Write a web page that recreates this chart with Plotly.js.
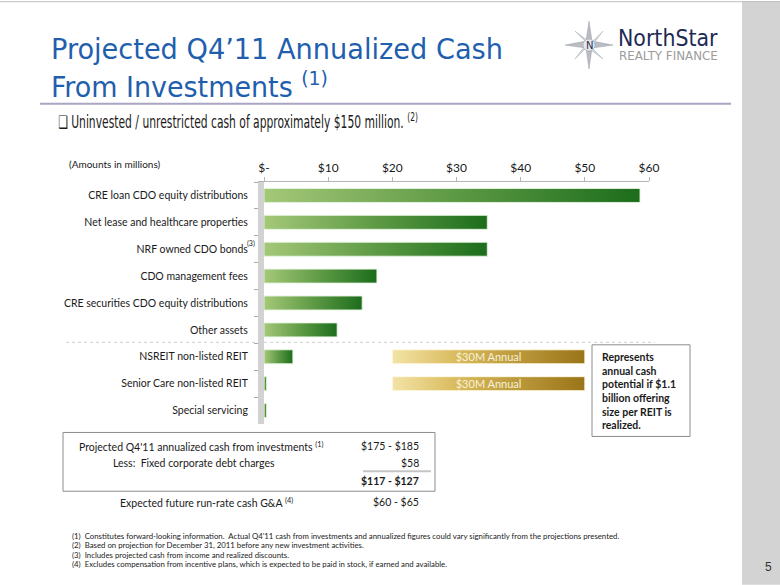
<!DOCTYPE html>
<html>
<head>
<meta charset="utf-8">
<script src="https://cdn.plot.ly/plotly-3.0.1.min.js"></script>
<style>
html,body{margin:0;padding:0;background:#fff;}
#chart{width:780px;height:585px;}
</style>
</head>
<body>
<div id="chart"></div>
<script>
// ---- data ----
const categories = [
  "CRE loan CDO equity distributions",
  "Net lease and healthcare properties",
  "NRF owned CDO bonds",
  "CDO management fees",
  "CRE securities CDO equity distributions",
  "Other assets",
  "NSREIT non-listed REIT",
  "Senior Care non-listed REIT",
  "Special servicing"
];
const cashValues = [58.6, 34.8, 34.8, 17.6, 15.3, 11.4, 4.5, 0.4, 0.4];
const potentialCategories = ["NSREIT non-listed REIT", "Senior Care non-listed REIT"];
const potentialValues = [30, 30];
const potentialBase = [20, 20];
const potentialLabels = ["$30M Annual", "$30M Annual"];
const tickValues = [0, 10, 20, 30, 40, 50, 60];
const tickLabels = ["$-", "$10", "$20", "$30", "$40", "$50", "$60"];
const tableLabels = ["Projected Q4'11 annualized cash from investments <sup>(1)</sup>", "Less:  Fixed corporate debt charges", "Expected future run-rate cash G&A <sup>(4)</sup>"];
const tableValues = ["$175 - $185", "$58", "<b>$117 - $127</b>", "$60 - $65"];
const footnotes = [
  "(1)  Constitutes forward-looking information.  Actual Q4'11 cash from investments and annualized figures could vary significantly from the projections presented.",
  "(2)  Based on projection for December 31, 2011 before any new investment activities.",
  "(3)  Includes projected cash from income and realized discounts.",
  "(4)  Excludes compensation from incentive plans, which is expected to be paid in stock, if earned and available."
];

// ---- pixel helpers for decorations ----
const L = 264, R = 649, T = 181.5, B = 424.5;
const px = x => (x - L) / (R - L);
const py = y => (B - y) / (B - T);
const F = "Lato, 'Open Sans', sans-serif";
const TF = "'DejaVu Sans Condensed', 'DejaVu Sans', sans-serif";

const traces = [
  {
    type: "bar", orientation: "h", y: categories, x: cashValues,
    marker: {color: "#4f913a", line: {color: "rgba(230,245,225,0.9)", width: 1}},
    width: 0.52, hoverinfo: "x+y", cliponaxis: false
  },
  {
    type: "bar", orientation: "h", y: potentialCategories, x: potentialValues, base: potentialBase,
    text: potentialLabels, textposition: "inside", insidetextanchor: "middle", constraintext: "none",
    textfont: {family: F, size: 11, color: "#f8f1dc"},
    marker: {color: "#c9a640", line: {color: "rgba(255,250,230,0.9)", width: 1}},
    width: 0.52, hoverinfo: "x+y"
  }
];

const ann = [];
const squeeze = []; // [annotation index, target width in px]
function A(text, x, y, opts, targetWidth) {
  ann.push(Object.assign({text: text, xref: "paper", yref: "paper", x: px(x), y: py(y),
    showarrow: false, xanchor: "left", yanchor: "middle",
    font: {family: F, size: 10.5, color: "#1a1a1a"}}, opts || {}));
  if (targetWidth) squeeze.push([ann.length - 1, targetWidth]);
}
A("Projected Q4’11 Annualized Cash", 49, 48, {font: {family: TF, size: 29, color: "#1f5fad"}}, 452);
A("From Investments <sup>(1)</sup>", 49, 84, {font: {family: TF, size: 29, color: "#1f5fad"}}, 277);
A("❑ Uninvested / unrestricted cash of approximately $150 million. <sup>(2)</sup>", 56, 120,
  {font: {family: TF, size: 17, color: "#1a1a1a"}}, 360);
A("(Amounts in millions)", 67, 163, {font: {family: F, size: 10, color: "#1a1a1a"}});
A("(3)", 251, 243, {xanchor: "center", font: {family: F, size: 7, color: "#1a1a1a"}});
A("NorthStar", 616, 37, {font: {family: TF, size: 23, color: "#1c2a55"}}, 100);
A("REALTY FINANCE", 617, 55, {font: {family: TF, size: 12, color: "#9c9c9c"}}, 99);
A("N", 589, 44, {xanchor: "center", font: {family: "'DejaVu Sans', sans-serif", size: 10, color: "#1c2a55"}});
A("5", 768, 568, {xanchor: "center", font: {family: "'Liberation Sans', sans-serif", size: 12, color: "#333"}});
// table
A(tableLabels[0], 77, 447);
A(tableLabels[1], 111, 464);
A(tableLabels[2], 118, 503);
A(tableValues[0], 421, 447, {xanchor: "right"});
A(tableValues[1], 421, 464, {xanchor: "right"});
A(tableValues[2], 421, 482, {xanchor: "right"});
A(tableValues[3], 421, 503, {xanchor: "right"});
// text box
A("<b>Represents<br>annual cash<br>potential if $1.1<br>billion offering<br>size per REIT is<br>realized.</b>", 600, 391,
  {align: "left", font: {family: F, size: 10.5, color: "#1a1a1a"}});
// footnotes
footnotes.forEach((t, i) => A(t, 70, 537 + i * 9.5, {font: {family: F, size: 7.8, color: "#1a1a1a"}}));

const shapes = [
  // sidebar
  {type: "rect", xref: "paper", yref: "paper", x0: px(742), x1: px(782), y0: py(0), y1: py(586),
   fillcolor: "#d3d3d3", line: {width: 0}, layer: "below"},
  // top border
  {type: "line", xref: "paper", yref: "paper", x0: px(0), x1: px(780), y0: py(0.5), y1: py(0.5),
   line: {color: "#bdbdbd", width: 1}},
  // title rule
  {type: "line", xref: "paper", yref: "paper", x0: px(40), x1: px(731), y0: py(103), y1: py(103),
   line: {color: "#a9a5c2", width: 2}},
  // separator dotted line
  {type: "line", xref: "paper", yref: "paper", x0: px(66), x1: px(655), y0: py(342.5), y1: py(342.5),
   line: {color: "#cfcfcf", width: 1, dash: "dot"}},
  // table box
  {type: "rect", xref: "paper", yref: "paper", x0: px(63), x1: px(435), y0: py(433), y1: py(492),
   line: {color: "#8c8c8c", width: 1}},
  {type: "line", xref: "paper", yref: "paper", x0: px(363), x1: px(431), y0: py(472), y1: py(472),
   line: {color: "#c4c4c4", width: 2}},
  // text box
  {type: "rect", xref: "paper", yref: "paper", x0: px(592), x1: px(690), y0: py(345), y1: py(437),
   line: {color: "#8c8c8c", width: 1}, fillcolor: "#fff", layer: "below"},
  // logo star (decoration)
  {type: "path", xref: "paper", yref: "paper",
   path: "M" + px(589) + "," + py(20) + " L" + px(592) + "," + py(40) + " L" + px(613) + "," + py(44) +
         " L" + px(592) + "," + py(47) + " L" + px(589) + "," + py(68) + " L" + px(586) + "," + py(47) +
         " L" + px(565) + "," + py(44) + " L" + px(586) + "," + py(40) + " Z",
   fillcolor: "#b9bcc2", line: {color: "#9a9ea6", width: 0.5}},
  {type: "path", xref: "paper", yref: "paper",
   path: "M" + px(575) + "," + py(30) + " L" + px(591) + "," + py(42) + " L" + px(603) + "," + py(30) +
         " L" + px(591) + "," + py(46) + " L" + px(603) + "," + py(58) + " L" + px(587) + "," + py(46) +
         " L" + px(575) + "," + py(58) + " L" + px(587) + "," + py(42) + " Z",
   fillcolor: "#cfd2d7", line: {color: "#a9adb4", width: 0.5}},
  {type: "circle", xref: "paper", yref: "paper", x0: px(583), x1: px(595), y0: py(38), y1: py(50),
   fillcolor: "#e6e8ec", line: {color: "#9a9ea6", width: 0.5}}
];

const layout = {
  width: 780, height: 585,
  margin: {l: L, r: 780 - R, t: T, b: 585 - B, pad: 0},
  paper_bgcolor: "#fff", plot_bgcolor: "rgba(0,0,0,0)",
  showlegend: false, barmode: "overlay",
  font: {family: F, color: "#1a1a1a"},
  xaxis: {
    side: "top", range: [0, 60], tickvals: tickValues, ticktext: tickLabels,
    showgrid: false, zeroline: false, showline: true, linecolor: "#b5b5b5", linewidth: 1,
    ticks: "outside", ticklen: 4, tickcolor: "#b5b5b5",
    tickfont: {family: F, size: 12, color: "#1a1a1a"}, fixedrange: true
  },
  yaxis: {
    type: "category", categoryorder: "array", categoryarray: categories, autorange: "reversed",
    showgrid: false, zeroline: false, showline: true, linecolor: "#d2d2d2", linewidth: 6,
    ticks: "outside", tickson: "boundaries", ticklen: 4, tickcolor: "#a8a8a8",
    ticklabelstandoff: 8,
    tickfont: {family: F, size: 10.5, color: "#1a1a1a"}, fixedrange: true
  },
  annotations: ann,
  shapes: shapes
};

Plotly.newPlot("chart", traces, layout, {displayModeBar: false, staticPlot: true}).then(gd => {
  const svg = gd.querySelector("svg.main-svg");
  const ns = "http://www.w3.org/2000/svg";
  let defs = svg.querySelector("defs");
  if (!defs) { defs = document.createElementNS(ns, "defs"); svg.insertBefore(defs, svg.firstChild); }
  function grad(id, stops) {
    const g = document.createElementNS(ns, "linearGradient");
    g.setAttribute("id", id); g.setAttribute("x1", "0"); g.setAttribute("x2", "1");
    g.setAttribute("y1", "0"); g.setAttribute("y2", "0");
    stops.forEach(s => {
      const st = document.createElementNS(ns, "stop");
      st.setAttribute("offset", s[0]); st.setAttribute("stop-color", s[1]);
      g.appendChild(st);
    });
    defs.appendChild(g);
  }
  grad("gGreen", [["0", "#a4c878"], ["0.5", "#5e9a45"], ["1", "#1c6d1c"]]);
  grad("gGold", [["0", "#f3e3a6"], ["0.35", "#d7b95a"], ["1", "#9a7418"]]);
  const tr = gd.querySelectorAll(".barlayer .trace");
  if (tr[0]) tr[0].querySelectorAll("path").forEach(p => p.style.fill = "url(#gGreen)");
  if (tr[1]) tr[1].querySelectorAll("path").forEach(p => p.style.fill = "url(#gGold)");
  // horizontally condense the narrow-font texts to the reference widths
  squeeze.forEach(([i, w]) => {
    const g = gd.querySelector('.annotation[data-index="' + i + '"]');
    if (!g) return;
    const t = g.querySelector("text");
    if (!t) return;
    const bb = t.getBBox();
    if (!bb.width) return;
    const s = w / bb.width;
    const prev = t.getAttribute("transform") || "";
    t.setAttribute("transform", prev + " translate(" + bb.x + ",0) scale(" + s + ",1) translate(" + (-bb.x) + ",0)");
  });
});
</script>
</body>
</html>
